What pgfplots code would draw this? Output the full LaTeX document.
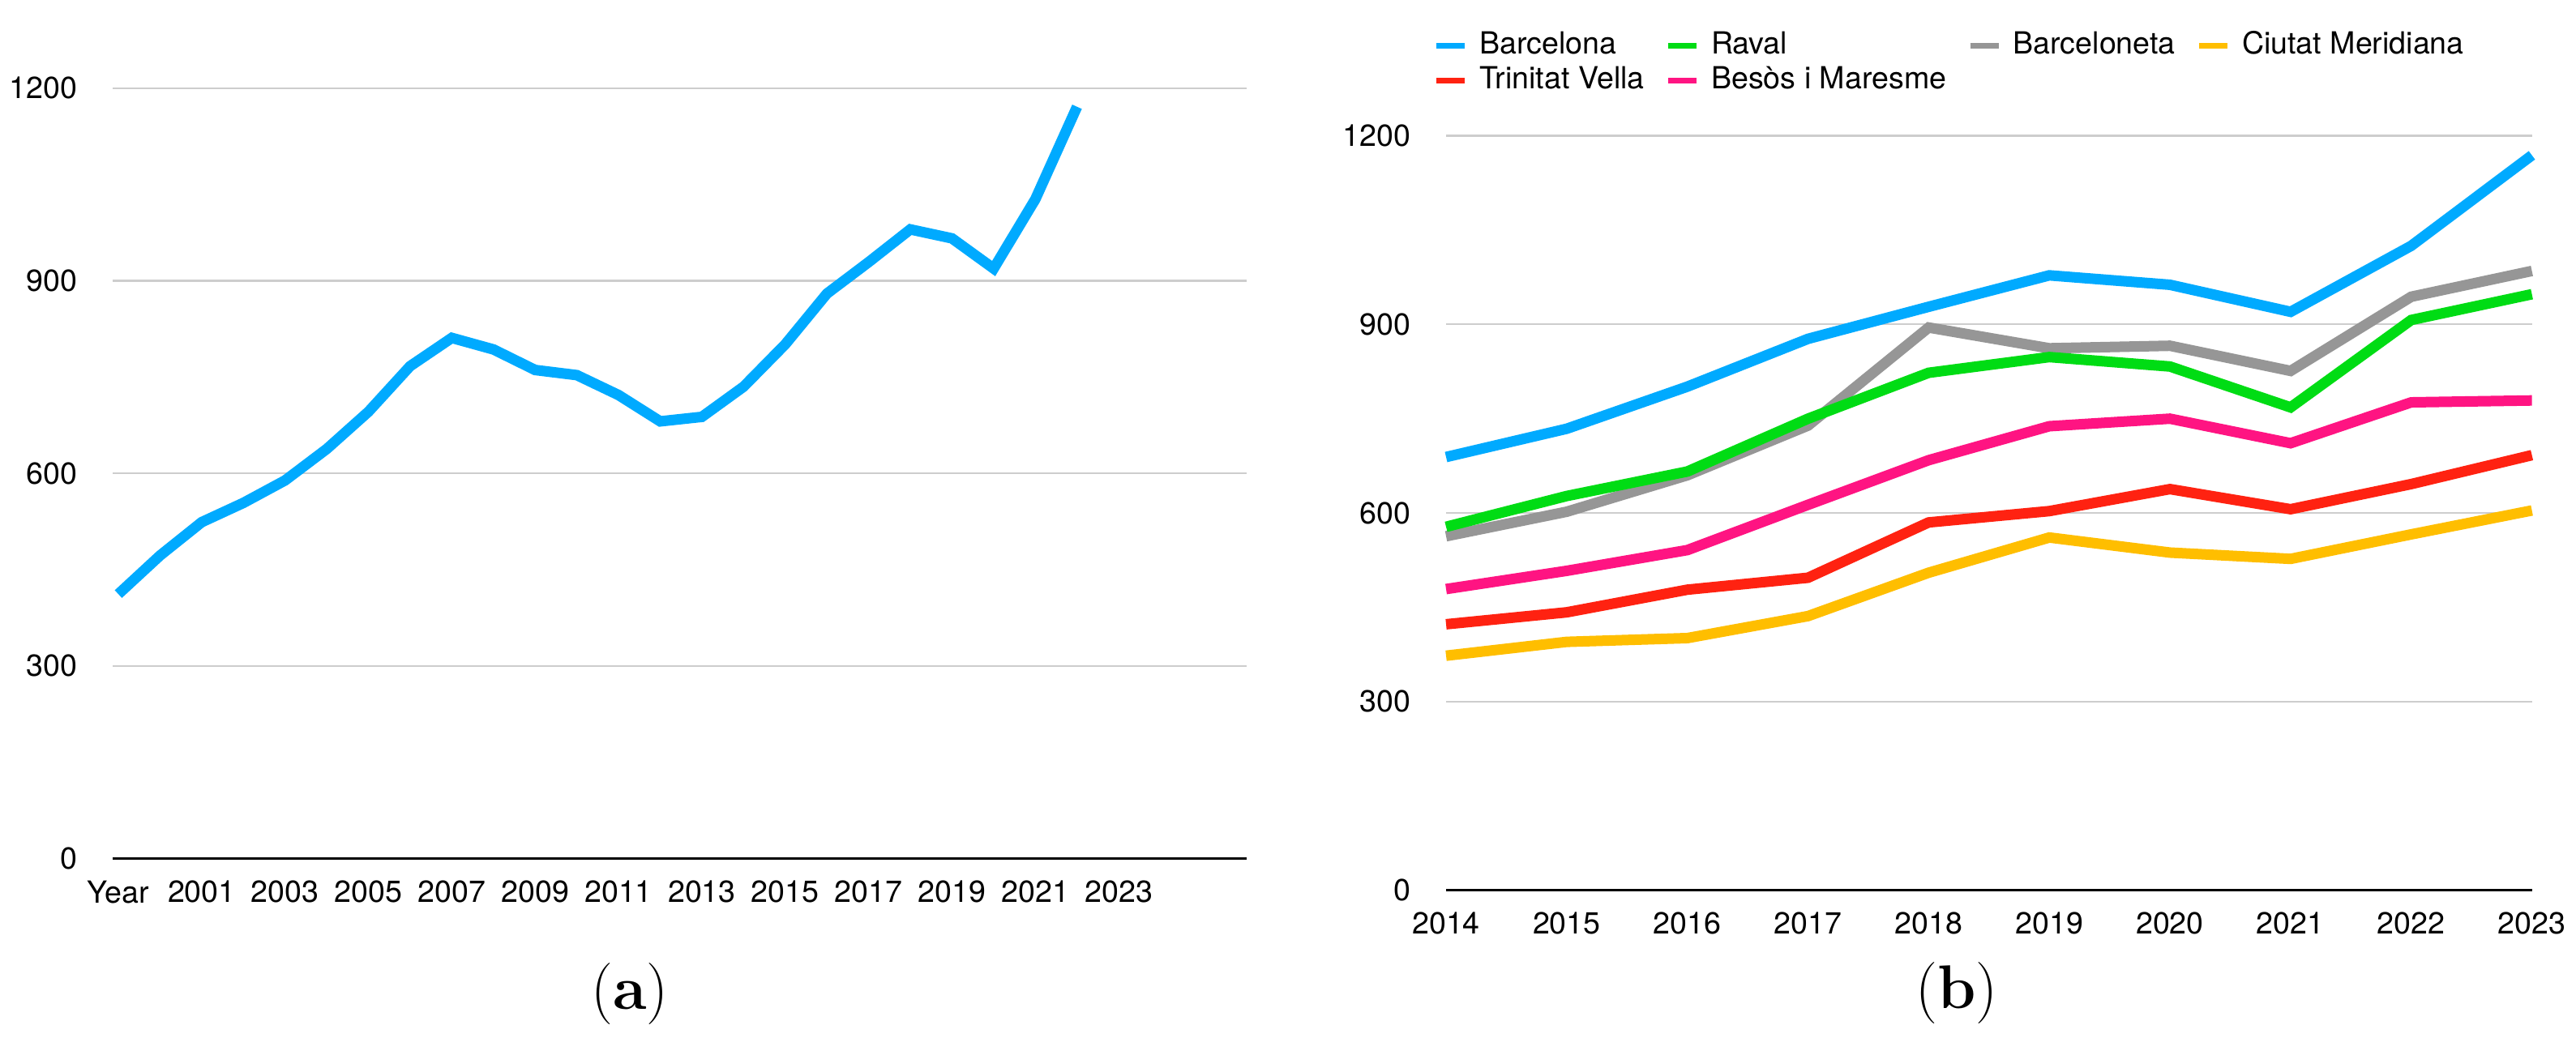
\documentclass[border=0pt]{standalone}
\usepackage{fontspec}
\setmainfont{TeX Gyre Heros}
\newfontfamily\capfont{Latin Modern Roman}
\usepackage{pgfplots}
\pgfplotsset{compat=1.18}

\definecolor{cBlue}{RGB}{0,170,255}
\definecolor{cGreen}{RGB}{0,220,20}
\definecolor{cGray}{RGB}{150,150,150}
\definecolor{cYellow}{RGB}{255,190,0}
\definecolor{cRed}{RGB}{255,34,17}
\definecolor{cPink}{RGB}{255,20,130}
\definecolor{cGrid}{RGB}{205,205,205}

% 1 px of the reference = 0.25pt
\pgfplotsset{
  numbersstyle/.style={
    scale only axis,
    anchor=south west,
    axis x line*=bottom,
    axis y line*=left,
    y axis line style={draw=none},
    x axis line style={-, black, line width=0.9pt},
    major tick length=0pt,
    ymin=0, ymax=1200,
    ytick={0,300,600,900,1200},
    ymajorgrids,
    grid style={cGrid, line width=0.55pt},
    clip=false,
    /pgf/number format/1000 sep={},
    /pgf/number format/assume math mode=true,
    tick label style={font=\fontsize{9.4}{11}\selectfont},
    yticklabel style={anchor=east, inner sep=0pt, xshift=-10.75pt},
    xticklabel style={anchor=north, inner sep=0pt, yshift=-6.6pt},
    every axis plot/.append style={line width=3.25pt},
  }
}

\begin{document}
\begin{tikzpicture}
\path[use as bounding box] (0pt,0pt) rectangle (794.5pt,320.25pt);

% (a) yearly series, plotted by position on a category axis
\begin{axis}[numbersstyle,
  at={(34.75pt,55.35pt)},
  width=349.75pt, height=237.7pt,
  xmin=-0.136, xmax=27.07,
  xtick={0,2,...,24},
  xticklabels={Year,2001,2003,2005,2007,2009,2011,2013,2015,2017,2019,2021,2023},
]
\addplot[cBlue] coordinates {
  (0,412) (1,472) (2,524) (3,554) (4,589) (5,638) (6,696) (7,767)
  (8,811) (9,793) (10,761) (11,753) (12,722) (13,681) (14,688) (15,735)
  (16,801) (17,880) (18,929) (19,980) (20,966) (21,919) (22,1027) (23,1171)
};
\end{axis}

% (b) neighbourhoods 2014-2023
\begin{axis}[numbersstyle,
  at={(446pt,45.6pt)},
  width=334.9pt, height=232.75pt,
  xmin=2014, xmax=2023,
  xtick={2014,...,2023},
  legend columns=4,
  reverse legend,
  legend image code/.code={\draw[#1, line width=1.75pt] (0pt,0pt) -- (8.75pt,0pt);},
  legend style={at={(-0.0119,1.1396)}, anchor=north west,
    draw=none, fill=none, inner sep=0pt, row sep=1.75pt,
    font=\fontsize{9.4}{11}\selectfont,
    cells={anchor=west},
    nodes={inner sep=0pt, text height=7pt, text depth=2pt},
    /tikz/every odd column/.append style={column sep=3.6pt},
    /tikz/every even column/.append style={column sep=6.5pt}},
]
\addplot[cPink] coordinates {
  (2014,479) (2015,508) (2016,541) (2017,613) (2018,684)
  (2019,738) (2020,750) (2021,711) (2022,776) (2023,779)
};
\addplot[cRed] coordinates {
  (2014,423) (2015,442) (2016,478) (2017,497) (2018,585)
  (2019,603) (2020,638) (2021,606) (2022,646) (2023,692)
};
\addplot[cYellow] coordinates {
  (2014,373) (2015,395) (2016,401) (2017,436) (2018,505)
  (2019,561) (2020,537) (2021,527) (2022,566) (2023,604)
};
\addplot[cGray] coordinates {
  (2014,563) (2015,602) (2016,660) (2017,739) (2018,895)
  (2019,862) (2020,866) (2021,826) (2022,944) (2023,985)
};
\addplot[cGreen] coordinates {
  (2014,578) (2015,627) (2016,666) (2017,750) (2018,823)
  (2019,848) (2020,833) (2021,768) (2022,907) (2023,948)
};
\addplot[cBlue] coordinates {
  (2014,689) (2015,734) (2016,801) (2017,877) (2018,928)
  (2019,978) (2020,963) (2021,920) (2022,1025) (2023,1169)
};
\legend{Besòs i Maresme, Trinitat Vella, Ciutat Meridiana, Barceloneta, Raval, Barcelona}
\end{axis}

\node[font=\capfont\fontsize{19}{19}\selectfont] at (194.25pt,13.5pt) {(\textbf{a})};
\node[font=\capfont\fontsize{19}{19}\selectfont] at (603.5pt,13.75pt) {(\textbf{b})};
\end{tikzpicture}
\end{document}
